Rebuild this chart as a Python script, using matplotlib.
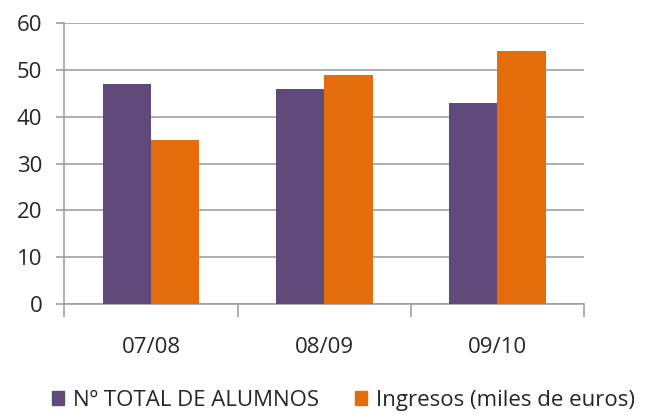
import numpy as np
import matplotlib.pyplot as plt
from matplotlib.patches import Patch

# --- Data ---
CATEGORIES = ["07/08", "08/09", "09/10"]
ALUMNOS = [47, 46, 43]
INGRESOS = [35, 49, 54]
SERIES_NAMES = ["Nº TOTAL DE ALUMNOS", "Ingresos (miles de euros)"]

PURPLE = "#604A7B"
ORANGE = "#E46C0A"
GRID = "#A0A0A0"
TEXT = "#262626"

plt.rcParams['font.family'] = ['Open Sans', 'DejaVu Sans']

fig = plt.figure(figsize=(6.54, 4.15), dpi=100)
ax = fig.add_axes([0.0986, 0.2675, 0.794, 0.6764])

x = np.arange(len(CATEGORIES))
w = 0.28
ax.bar(x - w / 2, ALUMNOS, width=w, color=PURPLE, zorder=3)
ax.bar(x + w / 2, INGRESOS, width=w, color=ORANGE, zorder=3)

ax.set_xlim(-0.5, len(CATEGORIES) - 0.5)
ax.set_ylim(0, 60)
ax.set_yticks(range(0, 61, 10))
ax.yaxis.grid(True, color=GRID, linewidth=1.2, zorder=0)

# category boundary ticks, labels centred
ax.set_xticks(np.arange(-0.5, len(CATEGORIES), 1.0))
ax.set_xticklabels([])
ax.set_xticks(x, minor=True)
ax.set_xticklabels(CATEGORIES, minor=True)
ax.tick_params(axis='x', which='major', length=9, color=GRID, width=1.2)
ax.tick_params(axis='x', which='minor', length=0, pad=24, labelsize=16, labelcolor=TEXT)
ax.tick_params(axis='y', length=6, color=GRID, width=1.2, pad=10, labelsize=16, labelcolor=TEXT)

for s in ["top", "right"]:
    ax.spines[s].set_visible(False)
for s in ["left", "bottom"]:
    ax.spines[s].set_color(GRID)
    ax.spines[s].set_linewidth(1.2)

handles = [Patch(color=PURPLE), Patch(color=ORANGE)]
fig.legend(handles, SERIES_NAMES, loc="center", bbox_to_anchor=(0.525, 0.035), ncol=2,
           frameon=False, fontsize=16, handlelength=0.55, handleheight=0.55,
           handletextpad=0.4, columnspacing=1.6, labelcolor=TEXT)

fig.savefig("out.png", dpi=100)
